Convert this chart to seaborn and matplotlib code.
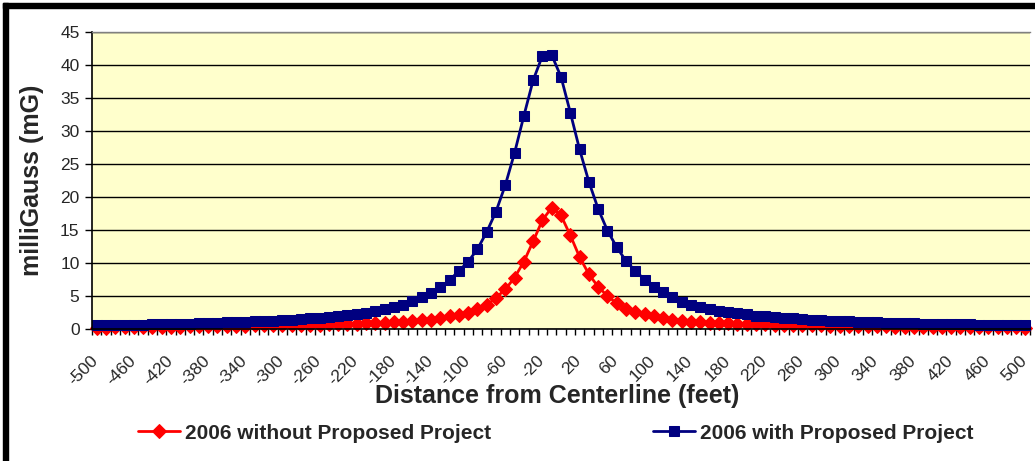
import pandas as pd
import seaborn as sns
import matplotlib.pyplot as plt
from matplotlib.patches import Rectangle
from matplotlib.transforms import ScaledTranslation

# distance from centerline, every 10 feet
distance = list(range(-500, 501, 10))

without_project = [
    0.2, 0.22, 0.24, 0.26, 0.28, 0.3, 0.32, 0.34, 0.36, 0.38,
    0.4, 0.42, 0.44, 0.46, 0.48, 0.5, 0.52, 0.54, 0.56, 0.58,
    0.6, 0.62, 0.64, 0.66, 0.68, 0.7, 0.72,
    0.75, 0.8, 0.85, 0.9, 0.95, 1.0, 1.1, 1.2, 1.3, 1.4,
    1.6, 1.9, 2.1, 2.5, 3.0, 3.6, 4.75, 6.0, 7.8, 10.2,
    13.3, 16.5, 18.4, 17.2, 14.2, 10.9, 8.3, 6.4, 5.0, 3.9,
    3.1, 2.6, 2.2, 1.9, 1.7, 1.4, 1.2, 1.1, 1.0, 0.95,
    0.9, 0.85, 0.8, 0.75,
    0.72, 0.69, 0.66, 0.63, 0.6, 0.58, 0.56, 0.54, 0.52, 0.5,
    0.48, 0.46, 0.44, 0.42, 0.4, 0.38, 0.36, 0.34, 0.33, 0.32,
    0.31, 0.3, 0.29, 0.28, 0.27, 0.26, 0.25, 0.24, 0.23, 0.22,
]

with_project = [
    0.55, 0.57, 0.6, 0.62, 0.65, 0.68, 0.7, 0.73, 0.76, 0.8,
    0.83, 0.87, 0.91, 0.95, 1.0, 1.05, 1.1, 1.15,
    1.2, 1.25, 1.3, 1.4, 1.5, 1.6, 1.7, 1.8, 2.0, 2.1,
    2.3, 2.5, 2.8, 3.1, 3.4, 3.7, 4.2, 4.8, 5.5, 6.3,
    7.4, 8.8, 10.2, 12.1, 14.7, 17.8, 21.8, 26.7, 32.3, 37.7,
    41.4, 41.5, 38.2, 32.8, 27.2, 22.3, 18.2, 14.9, 12.4, 10.3,
    8.8, 7.5, 6.4, 5.6, 4.8, 4.1, 3.7, 3.3, 3.0, 2.8,
    2.6, 2.4, 2.2, 2.0, 1.9, 1.8, 1.7, 1.6, 1.5, 1.4,
    1.3, 1.25, 1.2,
    1.15, 1.1, 1.05, 1.0, 0.96, 0.92, 0.88, 0.85, 0.82, 0.79,
    0.76, 0.73, 0.71, 0.69, 0.67, 0.65, 0.63, 0.61, 0.6, 0.58,
]

x_tick_labels = [str(v) for v in range(-500, 501, 40)]
y_ticks = list(range(0, 46, 5))

df = pd.DataFrame({"distance": distance,
                   "without": without_project,
                   "with": with_project})

sns.set_theme(style="white")
plt.rcParams["font.family"] = ["Liberation Sans", "DejaVu Sans"]

fig = plt.figure(figsize=(10.35, 4.61), dpi=100)
ax = fig.add_axes([0.0889, 0.2863, 0.9063, 0.6443])
ax.set_facecolor("#FFFFCC")

sns.lineplot(data=df, x="distance", y="without", ax=ax, color="#FF0000",
             marker="D", markersize=7, markeredgecolor="#FF0000",
             linewidth=2, label="2006 without Proposed Project", clip_on=False)
sns.lineplot(data=df, x="distance", y="with", ax=ax, color="#000080",
             marker="s", markersize=7.5, markeredgecolor="#000080",
             linewidth=2, label="2006 with Proposed Project", clip_on=False)

ax.set_xlim(-505, 505)
ax.set_ylim(0, 45)
ax.set_yticks(y_ticks)
ax.set_xticks(range(-500, 501, 40), x_tick_labels)
ax.set_xticks(range(-505, 506, 10), minor=True)
ax.yaxis.grid(True, color="black", linewidth=1)
ax.set_axisbelow(True)

ax.tick_params(axis="y", which="major", length=5, width=1, color="black",
               direction="out", labelsize=12.5, pad=4, left=True)
ax.tick_params(axis="x", which="major", length=0, labelsize=12.5, pad=17)
ax.tick_params(axis="x", which="minor", length=4, width=1, color="black",
               direction="out", bottom=True)

for spine in ["left", "bottom"]:
    ax.spines[spine].set_color("black")
    ax.spines[spine].set_linewidth(1.2)
ax.spines["top"].set_color("#808080")
ax.spines["top"].set_linewidth(1)
ax.spines["right"].set_visible(False)

shift = ScaledTranslation(-0.06, 0, fig.dpi_scale_trans)
for lab in ax.get_xticklabels():
    lab.set_rotation(45)
    lab.set_ha("right")
    lab.set_va("top")
    lab.set_rotation_mode("anchor")
    lab.set_transform(lab.get_transform() + shift)

ax.set_ylabel("milliGauss (mG)", fontsize=18, fontweight="bold")
ax.yaxis.set_label_coords(-0.051, 0.5)
ax.set_xlabel("Distance from Centerline (feet)", fontsize=18, fontweight="bold")
ax.xaxis.set_label_coords(0.4957, -0.185)

ax.get_legend().remove()
handles, labels = ax.get_legend_handles_labels()
leg = fig.legend(handles, labels, loc="center", bbox_to_anchor=(0.537, 0.0607),
                 ncol=2, frameon=False, handlelength=2.0, handletextpad=0.25,
                 columnspacing=7.8, prop={"weight": "bold", "size": 15})

# black frame on left and top
fig.patches.append(Rectangle((3 / 1035, 0), 5 / 1035, 458 / 461,
                             transform=fig.transFigure, color="black"))
fig.patches.append(Rectangle((3 / 1035, 453 / 461), 1032 / 1035, 5 / 461,
                             transform=fig.transFigure, color="black"))

fig.savefig("out.png", dpi=100)
